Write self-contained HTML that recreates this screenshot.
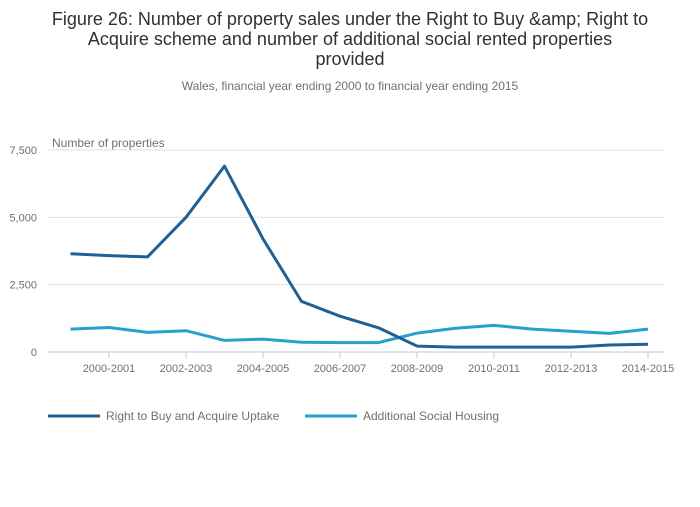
<!DOCTYPE html>
<html><head><meta charset="utf-8"><style>
body{margin:0;background:#fff;font-family:"Liberation Sans",sans-serif;}
svg text{font-family:"Liberation Sans",sans-serif;}
</style></head><body>
<svg id="c" width="700" height="502">
<text x="350" y="25" text-anchor="middle" font-size="18" fill="#323132">Figure 26: Number of property sales under the Right to Buy &amp;amp; Right to</text>
<text x="350" y="45" text-anchor="middle" font-size="18" fill="#323132">Acquire scheme and number of additional social rented properties</text>
<text x="350" y="65" text-anchor="middle" font-size="18" fill="#323132">provided</text>
<text x="350" y="90" text-anchor="middle" font-size="12" fill="#707071">Wales, financial year ending 2000 to financial year ending 2015</text>
<text x="52" y="147" font-size="12" fill="#707071">Number of properties</text>
<g id="grid"></g><g id="xax"></g><g id="lines"></g>
<g>
<line x1="48" y1="416" x2="100" y2="416" stroke="#206095" stroke-width="3"/>
<text x="106" y="420" font-size="12" fill="#707071">Right to Buy and Acquire Uptake</text>
<line x1="305" y1="416" x2="357" y2="416" stroke="#27a0cc" stroke-width="3"/>
<text x="363" y="420" font-size="12" fill="#707071">Additional Social Housing</text>
</g>
</svg>
<script>
const categories=["1999-2000","2000-2001","2001-2002","2002-2003","2003-2004","2004-2005","2005-2006","2006-2007","2007-2008","2008-2009","2009-2010","2010-2011","2011-2012","2012-2013","2013-2014","2014-2015"];
const rtbValues=[3650,3580,3530,5000,6900,4200,1880,1330,900,220,180,180,180,180,260,290];
const socialValues=[850,910,730,790,430,480,360,350,350,700,880,990,850,770,690,850];
const yTicks=[0,2500,5000,7500];
const yTickLabels=["0","2,500","5,000","7,500"];
const NS="http://www.w3.org/2000/svg";
const x0=70.5,step=38.5,yBase=352,yTop=150,yMax=7500;
const xs=i=>x0+i*step, ys=v=>yBase-(v/yMax)*(yBase-yTop);
function mk(t,a,p){const e=document.createElementNS(NS,t);for(const k in a)e.setAttribute(k,a[k]);p.appendChild(e);return e;}
const grid=document.getElementById('grid');
yTicks.forEach((v,i)=>{
 const l=mk('line',{x1:48,x2:665,y1:ys(v),y2:ys(v),stroke:v===0?'#bfc7e0':'#e2e2e3','stroke-width':1},grid);
 
 
 const t=mk('text',{x:37,y:ys(v)+4,'text-anchor':'end','font-size':11,fill:'#707071'},grid);t.textContent=yTickLabels[i];
 
 
});
const xax=document.getElementById('xax');
categories.forEach((c,i)=>{
 if(i%2===1){
  const l=mk('line',{x1:xs(i),x2:xs(i),y1:yBase,y2:yBase+6,stroke:'#bfc7e0'},xax);
  
  
  const t=mk('text',{x:xs(i),y:372,'text-anchor':'middle','font-size':11,fill:'#707071'},xax);t.textContent=c;
  
  
 }
});
const lines=document.getElementById('lines');
[[socialValues,'#27a0cc','series-social-housing'],[rtbValues,'#206095','series-right-to-buy']].forEach(([vals,col,n])=>{
 const p=mk('polyline',{points:vals.map((v,i)=>xs(i)+','+ys(v)).join(' '),fill:'none',stroke:col,'stroke-width':3,'stroke-linejoin':'round'},lines);
 
 
});
</script>
</body></html>
